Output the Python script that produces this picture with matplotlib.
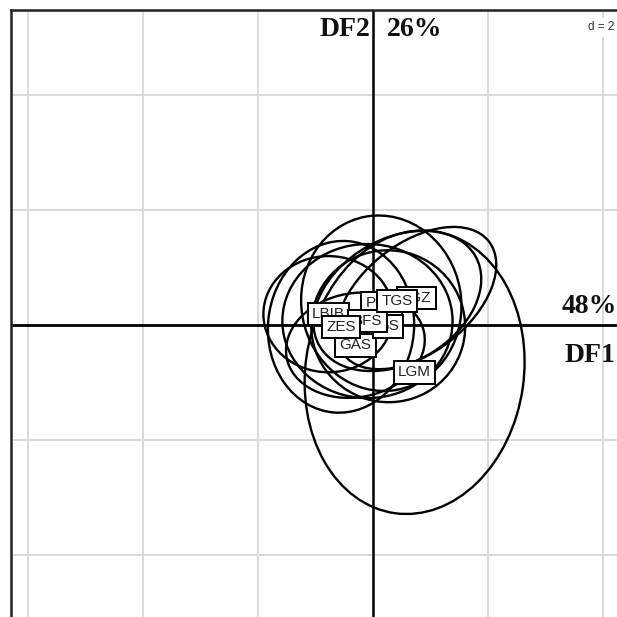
import matplotlib
matplotlib.use("Agg")
import matplotlib.pyplot as plt
from matplotlib.patches import Ellipse

# class labels, centroids on DF1/DF2 and ellipse shapes (width, height, angle)
groups = ["TGZ", "PGS", "LBIB", "GAS", "GS", "BFS", "ZES", "TGS", "LGM"]
cx = [0.75, 0.14, -0.78, -0.31, 0.26, -0.10, -0.56, 0.42, 0.72]
cy = [0.47, 0.38, 0.19, -0.35, -0.02, 0.07, -0.03, 0.42, -0.82]
ell_w = [3.20, 2.78, 2.26, 2.43, 2.68, 2.96, 2.54, 3.13, 3.80]
ell_h = [1.90, 3.06, 2.02, 1.81, 2.64, 2.68, 2.99, 2.16, 4.95]
ell_angle = [38, 10, 0, 10, -15, 0, -5, 30, -8]

inertia = {"DF1": 48, "DF2": 26}
grid_d = 2

fig = plt.figure(figsize=(6.17, 6.17), dpi=100)
ax = fig.add_axes([0.0178, -0.0376, 1.1742, 1.0214])
ax.set_xlim(-6.3, 6.3)
ax.set_ylim(-5.48, 5.48)

# light grid every d units
for gx in [-6, -4, -2, 2, 4]:
    ax.axvline(gx, color="#d8d8d8", lw=1.3, zorder=0)
for gy in [-4, -2, 2, 4]:
    ax.axhline(gy, color="#d8d8d8", lw=1.3, zorder=0)
ax.axhline(0, color="black", lw=2.0, zorder=1)
ax.axvline(0, color="black", lw=1.8, zorder=1)

for s in ax.spines.values():
    s.set_linewidth(1.8)
    s.set_color("#222222")
ax.set_xticks([])
ax.set_yticks([])

for x, y, w, h, a in zip(cx, cy, ell_w, ell_h, ell_angle):
    ax.add_patch(Ellipse((x, y), w, h, angle=a, fill=False,
                         edgecolor="black", lw=1.7, zorder=2))

for name, x, y in zip(groups, cx, cy):
    ax.text(x, y, name, ha="center", va="center", fontsize=11,
            family="Liberation Sans", color="#222222", zorder=3,
            bbox=dict(boxstyle="square,pad=0.28", fc="white",
                      ec="black", lw=1.4))

# axis titles with percentage of inertia
serif = dict(family="Liberation Serif", fontweight="bold", fontsize=20,
             color="#111111", zorder=4)
ax.text(-0.05, 5.03, "DF2", ha="right", va="baseline", **serif)
ax.text(0.23, 5.03, "%d%%" % inertia["DF2"], ha="left", va="baseline", **serif)
ax.text(3.27, 0.21, "%d%%" % inertia["DF1"], ha="left", va="baseline", **serif)
ax.text(3.32, -0.64, "DF1", ha="left", va="baseline", **serif)

ax.text(4.19, 5.13, "d = %d" % grid_d, ha="right", va="baseline",
        fontsize=8.5, family="Liberation Sans", color="#333333", zorder=4,
        bbox=dict(boxstyle="square,pad=0.3", fc="white", ec="none"))

fig.savefig("out.png", dpi=100, facecolor="white")
